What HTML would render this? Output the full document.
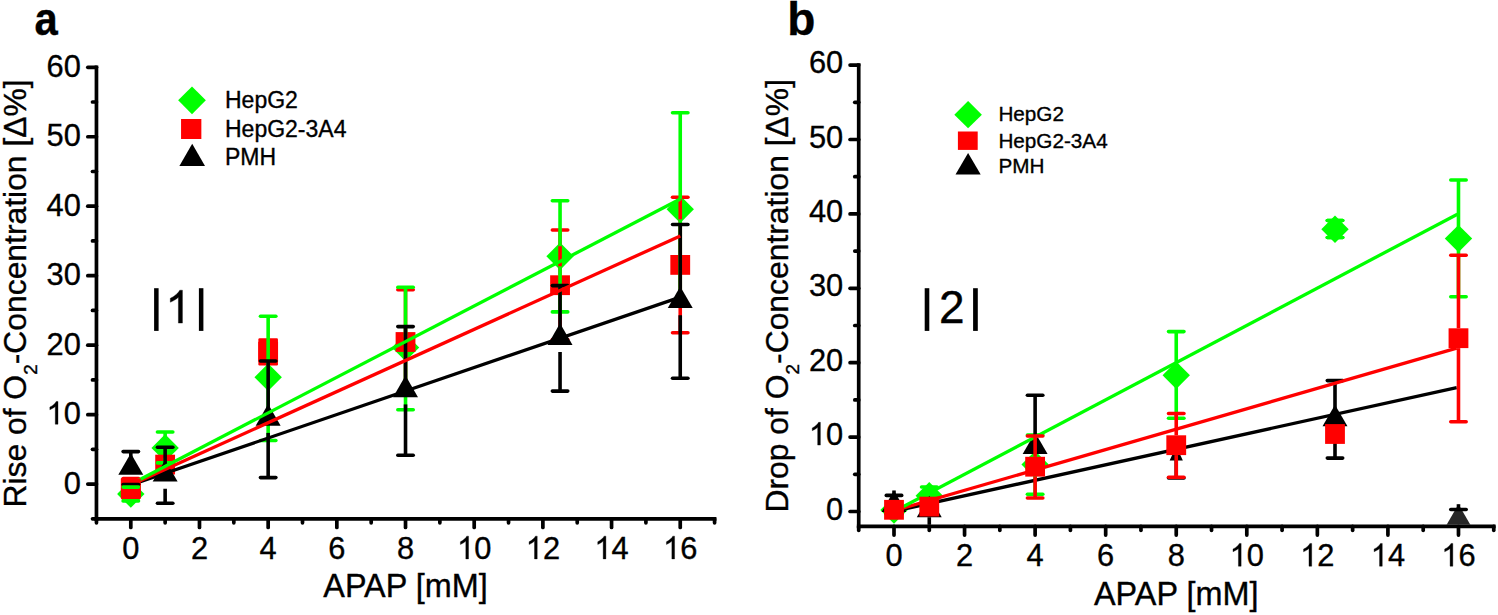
<!DOCTYPE html>
<html><head><meta charset="utf-8"><style>
html,body{margin:0;padding:0;background:#fff;}
svg{display:block;}
text{font-family:"Liberation Sans", sans-serif;fill:#000;stroke:#000;stroke-width:0.35px;}
</style></head><body>
<svg width="1498" height="615" viewBox="0 0 1498 615">
<rect width="1498" height="615" fill="#fff"/>
<line x1="96.46" y1="65.43" x2="96.46" y2="520.69" stroke="#000000" stroke-width="3.7" stroke-linecap="butt"/>
<line x1="94.61" y1="518.84" x2="716.43" y2="518.84" stroke="#000000" stroke-width="3.7" stroke-linecap="butt"/>
<line x1="87.81" y1="484.10" x2="96.46" y2="484.10" stroke="#000000" stroke-width="3.7" stroke-linecap="round"/>
<line x1="87.81" y1="414.63" x2="96.46" y2="414.63" stroke="#000000" stroke-width="3.7" stroke-linecap="round"/>
<line x1="87.81" y1="345.16" x2="96.46" y2="345.16" stroke="#000000" stroke-width="3.7" stroke-linecap="round"/>
<line x1="87.81" y1="275.69" x2="96.46" y2="275.69" stroke="#000000" stroke-width="3.7" stroke-linecap="round"/>
<line x1="87.81" y1="206.22" x2="96.46" y2="206.22" stroke="#000000" stroke-width="3.7" stroke-linecap="round"/>
<line x1="87.81" y1="136.75" x2="96.46" y2="136.75" stroke="#000000" stroke-width="3.7" stroke-linecap="round"/>
<line x1="87.81" y1="67.28" x2="96.46" y2="67.28" stroke="#000000" stroke-width="3.7" stroke-linecap="round"/>
<line x1="92.51" y1="449.37" x2="96.46" y2="449.37" stroke="#000000" stroke-width="3.7" stroke-linecap="round"/>
<line x1="92.51" y1="379.90" x2="96.46" y2="379.90" stroke="#000000" stroke-width="3.7" stroke-linecap="round"/>
<line x1="92.51" y1="310.43" x2="96.46" y2="310.43" stroke="#000000" stroke-width="3.7" stroke-linecap="round"/>
<line x1="92.51" y1="240.96" x2="96.46" y2="240.96" stroke="#000000" stroke-width="3.7" stroke-linecap="round"/>
<line x1="92.51" y1="171.49" x2="96.46" y2="171.49" stroke="#000000" stroke-width="3.7" stroke-linecap="round"/>
<line x1="92.51" y1="102.02" x2="96.46" y2="102.02" stroke="#000000" stroke-width="3.7" stroke-linecap="round"/>
<line x1="92.51" y1="518.84" x2="96.46" y2="518.84" stroke="#000000" stroke-width="3.7" stroke-linecap="round"/>
<line x1="130.80" y1="518.84" x2="130.80" y2="527.49" stroke="#000000" stroke-width="3.7" stroke-linecap="round"/>
<line x1="199.48" y1="518.84" x2="199.48" y2="527.49" stroke="#000000" stroke-width="3.7" stroke-linecap="round"/>
<line x1="268.16" y1="518.84" x2="268.16" y2="527.49" stroke="#000000" stroke-width="3.7" stroke-linecap="round"/>
<line x1="336.84" y1="518.84" x2="336.84" y2="527.49" stroke="#000000" stroke-width="3.7" stroke-linecap="round"/>
<line x1="405.52" y1="518.84" x2="405.52" y2="527.49" stroke="#000000" stroke-width="3.7" stroke-linecap="round"/>
<line x1="474.20" y1="518.84" x2="474.20" y2="527.49" stroke="#000000" stroke-width="3.7" stroke-linecap="round"/>
<line x1="542.88" y1="518.84" x2="542.88" y2="527.49" stroke="#000000" stroke-width="3.7" stroke-linecap="round"/>
<line x1="611.56" y1="518.84" x2="611.56" y2="527.49" stroke="#000000" stroke-width="3.7" stroke-linecap="round"/>
<line x1="680.24" y1="518.84" x2="680.24" y2="527.49" stroke="#000000" stroke-width="3.7" stroke-linecap="round"/>
<line x1="96.46" y1="518.84" x2="96.46" y2="522.78" stroke="#000000" stroke-width="3.7" stroke-linecap="round"/>
<line x1="165.14" y1="518.84" x2="165.14" y2="522.78" stroke="#000000" stroke-width="3.7" stroke-linecap="round"/>
<line x1="233.82" y1="518.84" x2="233.82" y2="522.78" stroke="#000000" stroke-width="3.7" stroke-linecap="round"/>
<line x1="302.50" y1="518.84" x2="302.50" y2="522.78" stroke="#000000" stroke-width="3.7" stroke-linecap="round"/>
<line x1="371.18" y1="518.84" x2="371.18" y2="522.78" stroke="#000000" stroke-width="3.7" stroke-linecap="round"/>
<line x1="439.86" y1="518.84" x2="439.86" y2="522.78" stroke="#000000" stroke-width="3.7" stroke-linecap="round"/>
<line x1="508.54" y1="518.84" x2="508.54" y2="522.78" stroke="#000000" stroke-width="3.7" stroke-linecap="round"/>
<line x1="577.22" y1="518.84" x2="577.22" y2="522.78" stroke="#000000" stroke-width="3.7" stroke-linecap="round"/>
<line x1="645.90" y1="518.84" x2="645.90" y2="522.78" stroke="#000000" stroke-width="3.7" stroke-linecap="round"/>
<line x1="714.58" y1="518.84" x2="714.58" y2="522.78" stroke="#000000" stroke-width="3.7" stroke-linecap="round"/>
<g transform="translate(80.80,493.70) scale(0.97,1)">
<text x="-17.69" y="0" font-size="31.8">0</text>
</g>
<g transform="translate(80.80,424.23) scale(0.97,1)">
<path d="M763,0L583,0L583,1147Q518,1085 412.5,1023Q307,961 223,930L223,1104Q374,1175 485,1273.5Q596,1372 644,1466L763,1466Z" transform="translate(-35.37,0.00) scale(0.01553,-0.01553)" fill="#000" stroke="#000" stroke-width="22.5"/>
<text x="-17.69" y="0" font-size="31.8">0</text>
</g>
<g transform="translate(80.80,354.76) scale(0.97,1)">
<text x="-35.37" y="0" font-size="31.8">2</text>
<text x="-17.69" y="0" font-size="31.8">0</text>
</g>
<g transform="translate(80.80,285.29) scale(0.97,1)">
<text x="-35.37" y="0" font-size="31.8">3</text>
<text x="-17.69" y="0" font-size="31.8">0</text>
</g>
<g transform="translate(80.80,215.82) scale(0.97,1)">
<text x="-35.37" y="0" font-size="31.8">4</text>
<text x="-17.69" y="0" font-size="31.8">0</text>
</g>
<g transform="translate(80.80,146.35) scale(0.97,1)">
<text x="-35.37" y="0" font-size="31.8">5</text>
<text x="-17.69" y="0" font-size="31.8">0</text>
</g>
<g transform="translate(80.80,76.88) scale(0.97,1)">
<text x="-35.37" y="0" font-size="31.8">6</text>
<text x="-17.69" y="0" font-size="31.8">0</text>
</g>
<g transform="translate(130.80,558.90) scale(0.97,1)">
<text x="-8.84" y="0" font-size="31.8">0</text>
</g>
<g transform="translate(199.48,558.90) scale(0.97,1)">
<text x="-8.84" y="0" font-size="31.8">2</text>
</g>
<g transform="translate(268.16,558.90) scale(0.97,1)">
<text x="-8.84" y="0" font-size="31.8">4</text>
</g>
<g transform="translate(336.84,558.90) scale(0.97,1)">
<text x="-8.84" y="0" font-size="31.8">6</text>
</g>
<g transform="translate(405.52,558.90) scale(0.97,1)">
<text x="-8.84" y="0" font-size="31.8">8</text>
</g>
<g transform="translate(474.20,558.90) scale(0.97,1)">
<path d="M763,0L583,0L583,1147Q518,1085 412.5,1023Q307,961 223,930L223,1104Q374,1175 485,1273.5Q596,1372 644,1466L763,1466Z" transform="translate(-17.69,0.00) scale(0.01553,-0.01553)" fill="#000" stroke="#000" stroke-width="22.5"/>
<text x="0.00" y="0" font-size="31.8">0</text>
</g>
<g transform="translate(542.88,558.90) scale(0.97,1)">
<path d="M763,0L583,0L583,1147Q518,1085 412.5,1023Q307,961 223,930L223,1104Q374,1175 485,1273.5Q596,1372 644,1466L763,1466Z" transform="translate(-17.69,0.00) scale(0.01553,-0.01553)" fill="#000" stroke="#000" stroke-width="22.5"/>
<text x="0.00" y="0" font-size="31.8">2</text>
</g>
<g transform="translate(611.56,558.90) scale(0.97,1)">
<path d="M763,0L583,0L583,1147Q518,1085 412.5,1023Q307,961 223,930L223,1104Q374,1175 485,1273.5Q596,1372 644,1466L763,1466Z" transform="translate(-17.69,0.00) scale(0.01553,-0.01553)" fill="#000" stroke="#000" stroke-width="22.5"/>
<text x="0.00" y="0" font-size="31.8">4</text>
</g>
<g transform="translate(680.24,558.90) scale(0.97,1)">
<path d="M763,0L583,0L583,1147Q518,1085 412.5,1023Q307,961 223,930L223,1104Q374,1175 485,1273.5Q596,1372 644,1466L763,1466Z" transform="translate(-17.69,0.00) scale(0.01553,-0.01553)" fill="#000" stroke="#000" stroke-width="22.5"/>
<text x="0.00" y="0" font-size="31.8">6</text>
</g>
<text x="323.30" y="596.60" font-size="32.4" text-anchor="start" font-weight="normal" >APAP [mM]</text>
<text transform="translate(25.8,505.6) rotate(-90)" x="-2" y="0" font-size="31.85">Rise of O<tspan font-size="19" dy="11">2</tspan><tspan dy="-11">-Concentration [Δ%]</tspan></text>
<text transform="translate(34.4,34.8) scale(0.89,1)" x="0" y="0" font-size="47" font-weight="bold">a</text>
<polygon points="192.00,86.45 205.85,100.30 192.00,114.15 178.15,100.30" fill="#00ff00"/>
<rect x="181.05" y="119.00" width="20.30" height="20.00" fill="#ff0000"/>
<polygon points="192.20,143.80 205.00,165.90 179.40,165.90" fill="#000000"/>
<text x="225.00" y="107.70" font-size="23" text-anchor="start" font-weight="normal" >HepG2</text>
<text x="225.00" y="137.30" font-size="23" text-anchor="start" font-weight="normal" >HepG2-3A4</text>
<text x="225.00" y="165.40" font-size="23" text-anchor="start" font-weight="normal" >PMH</text>
<rect x="154.1" y="288.2" width="4.5" height="42.7" fill="#000"/>
<rect x="198.9" y="288.2" width="4.5" height="42.7" fill="#000"/>
<path d="M763,0L583,0L583,1147Q518,1085 412.5,1023Q307,961 223,930L223,1104Q374,1175 485,1273.5Q596,1372 644,1466L763,1466Z" transform="translate(165.30,323.10) scale(0.02246,-0.02246)" fill="#000" stroke="#000" stroke-width="15.6"/>
<clipPath id="ca"><rect x="98.5" y="60" width="630" height="456.8"/></clipPath><g clip-path="url(#ca)">
<polygon points="130.80,480.30 144.50,494.00 130.80,507.70 117.10,494.00" fill="#00ff00"/>
<polygon points="165.14,434.20 178.84,447.90 165.14,461.60 151.44,447.90" fill="#00ff00"/>
<polygon points="268.16,363.60 281.86,377.30 268.16,391.00 254.46,377.30" fill="#00ff00"/>
<polygon points="405.52,333.80 419.22,347.50 405.52,361.20 391.82,347.50" fill="#00ff00"/>
<polygon points="560.05,242.60 573.75,256.30 560.05,270.00 546.35,256.30" fill="#00ff00"/>
<polygon points="680.24,195.60 693.94,209.30 680.24,223.00 666.54,209.30" fill="#00ff00"/>
<rect x="120.90" y="478.50" width="19.80" height="19.80" fill="#ff0000"/>
<rect x="155.24" y="454.70" width="19.80" height="19.80" fill="#ff0000"/>
<rect x="258.26" y="341.80" width="19.80" height="19.80" fill="#ff0000"/>
<rect x="395.62" y="332.10" width="19.80" height="19.80" fill="#ff0000"/>
<rect x="550.15" y="275.30" width="19.80" height="19.80" fill="#ff0000"/>
<rect x="670.34" y="255.00" width="19.80" height="19.80" fill="#ff0000"/>
<line x1="130.80" y1="478.50" x2="130.80" y2="478.50" stroke="#ff0000" stroke-width="3.6" stroke-linecap="butt"/>
<line x1="123.10" y1="478.50" x2="138.50" y2="478.50" stroke="#ff0000" stroke-width="3.6" stroke-linecap="round"/>
<line x1="130.80" y1="498.30" x2="130.80" y2="498.30" stroke="#ff0000" stroke-width="3.6" stroke-linecap="butt"/>
<line x1="123.10" y1="498.30" x2="138.50" y2="498.30" stroke="#ff0000" stroke-width="3.6" stroke-linecap="round"/>
<line x1="405.52" y1="332.10" x2="405.52" y2="289.80" stroke="#ff0000" stroke-width="3.6" stroke-linecap="butt"/>
<line x1="397.82" y1="289.80" x2="413.22" y2="289.80" stroke="#ff0000" stroke-width="3.6" stroke-linecap="round"/>
<line x1="405.52" y1="351.90" x2="405.52" y2="394.10" stroke="#ff0000" stroke-width="3.6" stroke-linecap="butt"/>
<line x1="397.82" y1="394.10" x2="413.22" y2="394.10" stroke="#ff0000" stroke-width="3.6" stroke-linecap="round"/>
<line x1="560.05" y1="275.30" x2="560.05" y2="230.00" stroke="#ff0000" stroke-width="3.6" stroke-linecap="butt"/>
<line x1="552.35" y1="230.00" x2="567.75" y2="230.00" stroke="#ff0000" stroke-width="3.6" stroke-linecap="round"/>
<line x1="560.05" y1="295.10" x2="560.05" y2="339.60" stroke="#ff0000" stroke-width="3.6" stroke-linecap="butt"/>
<line x1="552.35" y1="339.60" x2="567.75" y2="339.60" stroke="#ff0000" stroke-width="3.6" stroke-linecap="round"/>
<line x1="680.24" y1="255.00" x2="680.24" y2="197.20" stroke="#ff0000" stroke-width="3.6" stroke-linecap="butt"/>
<line x1="672.54" y1="197.20" x2="687.94" y2="197.20" stroke="#ff0000" stroke-width="3.6" stroke-linecap="round"/>
<line x1="680.24" y1="274.80" x2="680.24" y2="332.80" stroke="#ff0000" stroke-width="3.6" stroke-linecap="butt"/>
<line x1="672.54" y1="332.80" x2="687.94" y2="332.80" stroke="#ff0000" stroke-width="3.6" stroke-linecap="round"/>
<rect x="258.36" y="338.2" width="19.6" height="27.2" rx="1.2" fill="#ff0000"/>
<line x1="130.80" y1="484.00" x2="130.80" y2="487.10" stroke="#00ff00" stroke-width="3.6" stroke-linecap="butt"/>
<line x1="123.10" y1="487.10" x2="138.50" y2="487.10" stroke="#00ff00" stroke-width="3.6" stroke-linecap="round"/>
<line x1="130.80" y1="504.00" x2="130.80" y2="500.90" stroke="#00ff00" stroke-width="3.6" stroke-linecap="butt"/>
<line x1="123.10" y1="500.90" x2="138.50" y2="500.90" stroke="#00ff00" stroke-width="3.6" stroke-linecap="round"/>
<line x1="165.14" y1="437.90" x2="165.14" y2="432.00" stroke="#00ff00" stroke-width="3.6" stroke-linecap="butt"/>
<line x1="157.44" y1="432.00" x2="172.84" y2="432.00" stroke="#00ff00" stroke-width="3.6" stroke-linecap="round"/>
<line x1="165.14" y1="457.90" x2="165.14" y2="462.90" stroke="#00ff00" stroke-width="3.6" stroke-linecap="butt"/>
<line x1="157.44" y1="462.90" x2="172.84" y2="462.90" stroke="#00ff00" stroke-width="3.6" stroke-linecap="round"/>
<line x1="268.16" y1="367.30" x2="268.16" y2="316.30" stroke="#00ff00" stroke-width="3.6" stroke-linecap="butt"/>
<line x1="260.46" y1="316.30" x2="275.86" y2="316.30" stroke="#00ff00" stroke-width="3.6" stroke-linecap="round"/>
<line x1="268.16" y1="387.30" x2="268.16" y2="440.50" stroke="#00ff00" stroke-width="3.6" stroke-linecap="butt"/>
<line x1="260.46" y1="440.50" x2="275.86" y2="440.50" stroke="#00ff00" stroke-width="3.6" stroke-linecap="round"/>
<line x1="405.52" y1="337.50" x2="405.52" y2="287.20" stroke="#00ff00" stroke-width="3.6" stroke-linecap="butt"/>
<line x1="397.82" y1="287.20" x2="413.22" y2="287.20" stroke="#00ff00" stroke-width="3.6" stroke-linecap="round"/>
<line x1="405.52" y1="357.50" x2="405.52" y2="409.80" stroke="#00ff00" stroke-width="3.6" stroke-linecap="butt"/>
<line x1="397.82" y1="409.80" x2="413.22" y2="409.80" stroke="#00ff00" stroke-width="3.6" stroke-linecap="round"/>
<line x1="560.05" y1="246.30" x2="560.05" y2="200.70" stroke="#00ff00" stroke-width="3.6" stroke-linecap="butt"/>
<line x1="552.35" y1="200.70" x2="567.75" y2="200.70" stroke="#00ff00" stroke-width="3.6" stroke-linecap="round"/>
<line x1="560.05" y1="266.30" x2="560.05" y2="311.90" stroke="#00ff00" stroke-width="3.6" stroke-linecap="butt"/>
<line x1="552.35" y1="311.90" x2="567.75" y2="311.90" stroke="#00ff00" stroke-width="3.6" stroke-linecap="round"/>
<line x1="680.24" y1="199.30" x2="680.24" y2="112.70" stroke="#00ff00" stroke-width="3.6" stroke-linecap="butt"/>
<line x1="672.54" y1="112.70" x2="687.94" y2="112.70" stroke="#00ff00" stroke-width="3.6" stroke-linecap="round"/>
<line x1="680.24" y1="219.30" x2="680.24" y2="306.30" stroke="#00ff00" stroke-width="3.6" stroke-linecap="butt"/>
<line x1="672.54" y1="306.30" x2="687.94" y2="306.30" stroke="#00ff00" stroke-width="3.6" stroke-linecap="round"/>
<polygon points="130.80,453.20 143.27,474.80 118.33,474.80" fill="#000000"/>
<polygon points="165.14,459.90 177.61,481.50 152.67,481.50" fill="#000000"/>
<polygon points="268.16,404.10 280.63,425.70 255.69,425.70" fill="#000000"/>
<polygon points="405.52,375.60 417.99,397.20 393.05,397.20" fill="#000000"/>
<polygon points="560.05,323.30 572.52,344.90 547.58,344.90" fill="#000000"/>
<polygon points="680.24,286.40 692.71,308.00 667.77,308.00" fill="#000000"/>
<line x1="130.80" y1="457.20" x2="130.80" y2="451.60" stroke="#000000" stroke-width="3.6" stroke-linecap="butt"/>
<line x1="123.10" y1="451.60" x2="138.50" y2="451.60" stroke="#000000" stroke-width="3.6" stroke-linecap="round"/>
<line x1="130.80" y1="482.00" x2="130.80" y2="484.50" stroke="#000000" stroke-width="3.6" stroke-linecap="butt"/>
<line x1="123.10" y1="484.50" x2="138.50" y2="484.50" stroke="#000000" stroke-width="3.6" stroke-linecap="round"/>
<line x1="165.14" y1="463.90" x2="165.14" y2="447.20" stroke="#000000" stroke-width="3.6" stroke-linecap="butt"/>
<line x1="157.44" y1="447.20" x2="172.84" y2="447.20" stroke="#000000" stroke-width="3.6" stroke-linecap="round"/>
<line x1="165.14" y1="488.70" x2="165.14" y2="503.30" stroke="#000000" stroke-width="3.6" stroke-linecap="butt"/>
<line x1="157.44" y1="503.30" x2="172.84" y2="503.30" stroke="#000000" stroke-width="3.6" stroke-linecap="round"/>
<line x1="268.16" y1="408.10" x2="268.16" y2="361.00" stroke="#000000" stroke-width="3.6" stroke-linecap="butt"/>
<line x1="260.46" y1="361.00" x2="275.86" y2="361.00" stroke="#000000" stroke-width="3.6" stroke-linecap="round"/>
<line x1="268.16" y1="432.90" x2="268.16" y2="477.60" stroke="#000000" stroke-width="3.6" stroke-linecap="butt"/>
<line x1="260.46" y1="477.60" x2="275.86" y2="477.60" stroke="#000000" stroke-width="3.6" stroke-linecap="round"/>
<line x1="405.52" y1="379.60" x2="405.52" y2="326.60" stroke="#000000" stroke-width="3.6" stroke-linecap="butt"/>
<line x1="397.82" y1="326.60" x2="413.22" y2="326.60" stroke="#000000" stroke-width="3.6" stroke-linecap="round"/>
<line x1="405.52" y1="404.40" x2="405.52" y2="455.20" stroke="#000000" stroke-width="3.6" stroke-linecap="butt"/>
<line x1="397.82" y1="455.20" x2="413.22" y2="455.20" stroke="#000000" stroke-width="3.6" stroke-linecap="round"/>
<line x1="560.05" y1="327.30" x2="560.05" y2="285.60" stroke="#000000" stroke-width="3.6" stroke-linecap="butt"/>
<line x1="552.35" y1="285.60" x2="567.75" y2="285.60" stroke="#000000" stroke-width="3.6" stroke-linecap="round"/>
<line x1="560.05" y1="352.10" x2="560.05" y2="391.10" stroke="#000000" stroke-width="3.6" stroke-linecap="butt"/>
<line x1="552.35" y1="391.10" x2="567.75" y2="391.10" stroke="#000000" stroke-width="3.6" stroke-linecap="round"/>
<line x1="680.24" y1="290.40" x2="680.24" y2="224.50" stroke="#000000" stroke-width="3.6" stroke-linecap="butt"/>
<line x1="672.54" y1="224.50" x2="687.94" y2="224.50" stroke="#000000" stroke-width="3.6" stroke-linecap="round"/>
<line x1="680.24" y1="315.20" x2="680.24" y2="378.30" stroke="#000000" stroke-width="3.6" stroke-linecap="butt"/>
<line x1="672.54" y1="378.30" x2="687.94" y2="378.30" stroke="#000000" stroke-width="3.6" stroke-linecap="round"/>
<line x1="130.80" y1="485.00" x2="680.30" y2="297.10" stroke="#000000" stroke-width="3.3" stroke-linecap="butt"/>
<line x1="130.80" y1="485.00" x2="680.30" y2="235.90" stroke="#ff0000" stroke-width="3.3" stroke-linecap="butt"/>
<line x1="130.80" y1="484.20" x2="680.30" y2="199.00" stroke="#00ff00" stroke-width="3.3" stroke-linecap="butt"/>
<rect x="120.90" y="478.50" width="19.80" height="19.80" fill="#ff0000"/>
<line x1="123.10" y1="484.50" x2="138.50" y2="484.50" stroke="#000000" stroke-width="3.6" stroke-linecap="round"/>
<line x1="123.10" y1="487.10" x2="138.50" y2="487.10" stroke="#00ff00" stroke-width="3.6" stroke-linecap="round"/>
</g>
<line x1="858.72" y1="63.25" x2="858.72" y2="528.23" stroke="#000000" stroke-width="3.7" stroke-linecap="butt"/>
<line x1="856.87" y1="526.38" x2="1495.61" y2="526.38" stroke="#000000" stroke-width="3.7" stroke-linecap="butt"/>
<line x1="850.07" y1="511.50" x2="858.72" y2="511.50" stroke="#000000" stroke-width="3.7" stroke-linecap="round"/>
<line x1="850.07" y1="437.10" x2="858.72" y2="437.10" stroke="#000000" stroke-width="3.7" stroke-linecap="round"/>
<line x1="850.07" y1="362.70" x2="858.72" y2="362.70" stroke="#000000" stroke-width="3.7" stroke-linecap="round"/>
<line x1="850.07" y1="288.30" x2="858.72" y2="288.30" stroke="#000000" stroke-width="3.7" stroke-linecap="round"/>
<line x1="850.07" y1="213.90" x2="858.72" y2="213.90" stroke="#000000" stroke-width="3.7" stroke-linecap="round"/>
<line x1="850.07" y1="139.50" x2="858.72" y2="139.50" stroke="#000000" stroke-width="3.7" stroke-linecap="round"/>
<line x1="850.07" y1="65.10" x2="858.72" y2="65.10" stroke="#000000" stroke-width="3.7" stroke-linecap="round"/>
<line x1="854.77" y1="474.30" x2="858.72" y2="474.30" stroke="#000000" stroke-width="3.7" stroke-linecap="round"/>
<line x1="854.77" y1="399.90" x2="858.72" y2="399.90" stroke="#000000" stroke-width="3.7" stroke-linecap="round"/>
<line x1="854.77" y1="325.50" x2="858.72" y2="325.50" stroke="#000000" stroke-width="3.7" stroke-linecap="round"/>
<line x1="854.77" y1="251.10" x2="858.72" y2="251.10" stroke="#000000" stroke-width="3.7" stroke-linecap="round"/>
<line x1="854.77" y1="176.70" x2="858.72" y2="176.70" stroke="#000000" stroke-width="3.7" stroke-linecap="round"/>
<line x1="854.77" y1="102.30" x2="858.72" y2="102.30" stroke="#000000" stroke-width="3.7" stroke-linecap="round"/>
<line x1="894.00" y1="526.38" x2="894.00" y2="535.03" stroke="#000000" stroke-width="3.7" stroke-linecap="round"/>
<line x1="964.56" y1="526.38" x2="964.56" y2="535.03" stroke="#000000" stroke-width="3.7" stroke-linecap="round"/>
<line x1="1035.12" y1="526.38" x2="1035.12" y2="535.03" stroke="#000000" stroke-width="3.7" stroke-linecap="round"/>
<line x1="1105.68" y1="526.38" x2="1105.68" y2="535.03" stroke="#000000" stroke-width="3.7" stroke-linecap="round"/>
<line x1="1176.24" y1="526.38" x2="1176.24" y2="535.03" stroke="#000000" stroke-width="3.7" stroke-linecap="round"/>
<line x1="1246.80" y1="526.38" x2="1246.80" y2="535.03" stroke="#000000" stroke-width="3.7" stroke-linecap="round"/>
<line x1="1317.36" y1="526.38" x2="1317.36" y2="535.03" stroke="#000000" stroke-width="3.7" stroke-linecap="round"/>
<line x1="1387.92" y1="526.38" x2="1387.92" y2="535.03" stroke="#000000" stroke-width="3.7" stroke-linecap="round"/>
<line x1="1458.48" y1="526.38" x2="1458.48" y2="535.03" stroke="#000000" stroke-width="3.7" stroke-linecap="round"/>
<line x1="858.72" y1="526.38" x2="858.72" y2="530.33" stroke="#000000" stroke-width="3.7" stroke-linecap="round"/>
<line x1="929.28" y1="526.38" x2="929.28" y2="530.33" stroke="#000000" stroke-width="3.7" stroke-linecap="round"/>
<line x1="999.84" y1="526.38" x2="999.84" y2="530.33" stroke="#000000" stroke-width="3.7" stroke-linecap="round"/>
<line x1="1070.40" y1="526.38" x2="1070.40" y2="530.33" stroke="#000000" stroke-width="3.7" stroke-linecap="round"/>
<line x1="1140.96" y1="526.38" x2="1140.96" y2="530.33" stroke="#000000" stroke-width="3.7" stroke-linecap="round"/>
<line x1="1211.52" y1="526.38" x2="1211.52" y2="530.33" stroke="#000000" stroke-width="3.7" stroke-linecap="round"/>
<line x1="1282.08" y1="526.38" x2="1282.08" y2="530.33" stroke="#000000" stroke-width="3.7" stroke-linecap="round"/>
<line x1="1352.64" y1="526.38" x2="1352.64" y2="530.33" stroke="#000000" stroke-width="3.7" stroke-linecap="round"/>
<line x1="1423.20" y1="526.38" x2="1423.20" y2="530.33" stroke="#000000" stroke-width="3.7" stroke-linecap="round"/>
<line x1="1493.76" y1="526.38" x2="1493.76" y2="530.33" stroke="#000000" stroke-width="3.7" stroke-linecap="round"/>
<g transform="translate(843.20,519.50) scale(0.97,1)">
<text x="-17.69" y="0" font-size="31.8">0</text>
</g>
<g transform="translate(843.20,445.10) scale(0.97,1)">
<path d="M763,0L583,0L583,1147Q518,1085 412.5,1023Q307,961 223,930L223,1104Q374,1175 485,1273.5Q596,1372 644,1466L763,1466Z" transform="translate(-35.37,0.00) scale(0.01553,-0.01553)" fill="#000" stroke="#000" stroke-width="22.5"/>
<text x="-17.69" y="0" font-size="31.8">0</text>
</g>
<g transform="translate(843.20,370.70) scale(0.97,1)">
<text x="-35.37" y="0" font-size="31.8">2</text>
<text x="-17.69" y="0" font-size="31.8">0</text>
</g>
<g transform="translate(843.20,296.30) scale(0.97,1)">
<text x="-35.37" y="0" font-size="31.8">3</text>
<text x="-17.69" y="0" font-size="31.8">0</text>
</g>
<g transform="translate(843.20,221.90) scale(0.97,1)">
<text x="-35.37" y="0" font-size="31.8">4</text>
<text x="-17.69" y="0" font-size="31.8">0</text>
</g>
<g transform="translate(843.20,147.50) scale(0.97,1)">
<text x="-35.37" y="0" font-size="31.8">5</text>
<text x="-17.69" y="0" font-size="31.8">0</text>
</g>
<g transform="translate(843.20,73.10) scale(0.97,1)">
<text x="-35.37" y="0" font-size="31.8">6</text>
<text x="-17.69" y="0" font-size="31.8">0</text>
</g>
<g transform="translate(894.00,566.20) scale(0.97,1)">
<text x="-8.84" y="0" font-size="31.8">0</text>
</g>
<g transform="translate(964.56,566.20) scale(0.97,1)">
<text x="-8.84" y="0" font-size="31.8">2</text>
</g>
<g transform="translate(1035.12,566.20) scale(0.97,1)">
<text x="-8.84" y="0" font-size="31.8">4</text>
</g>
<g transform="translate(1105.68,566.20) scale(0.97,1)">
<text x="-8.84" y="0" font-size="31.8">6</text>
</g>
<g transform="translate(1176.24,566.20) scale(0.97,1)">
<text x="-8.84" y="0" font-size="31.8">8</text>
</g>
<g transform="translate(1246.80,566.20) scale(0.97,1)">
<path d="M763,0L583,0L583,1147Q518,1085 412.5,1023Q307,961 223,930L223,1104Q374,1175 485,1273.5Q596,1372 644,1466L763,1466Z" transform="translate(-17.69,0.00) scale(0.01553,-0.01553)" fill="#000" stroke="#000" stroke-width="22.5"/>
<text x="0.00" y="0" font-size="31.8">0</text>
</g>
<g transform="translate(1317.36,566.20) scale(0.97,1)">
<path d="M763,0L583,0L583,1147Q518,1085 412.5,1023Q307,961 223,930L223,1104Q374,1175 485,1273.5Q596,1372 644,1466L763,1466Z" transform="translate(-17.69,0.00) scale(0.01553,-0.01553)" fill="#000" stroke="#000" stroke-width="22.5"/>
<text x="0.00" y="0" font-size="31.8">2</text>
</g>
<g transform="translate(1387.92,566.20) scale(0.97,1)">
<path d="M763,0L583,0L583,1147Q518,1085 412.5,1023Q307,961 223,930L223,1104Q374,1175 485,1273.5Q596,1372 644,1466L763,1466Z" transform="translate(-17.69,0.00) scale(0.01553,-0.01553)" fill="#000" stroke="#000" stroke-width="22.5"/>
<text x="0.00" y="0" font-size="31.8">4</text>
</g>
<g transform="translate(1458.48,566.20) scale(0.97,1)">
<path d="M763,0L583,0L583,1147Q518,1085 412.5,1023Q307,961 223,930L223,1104Q374,1175 485,1273.5Q596,1372 644,1466L763,1466Z" transform="translate(-17.69,0.00) scale(0.01553,-0.01553)" fill="#000" stroke="#000" stroke-width="22.5"/>
<text x="0.00" y="0" font-size="31.8">6</text>
</g>
<text x="1094.00" y="604.90" font-size="32.4" text-anchor="start" font-weight="normal" >APAP [mM]</text>
<text transform="translate(788.3,510.6) rotate(-90)" x="-2" y="0" font-size="31.85">Drop of O<tspan font-size="19" dy="11">2</tspan><tspan dy="-11">-Concentration [Δ%]</tspan></text>
<text x="787.30" y="34.60" font-size="46" text-anchor="start" font-weight="bold" >b</text>
<polygon points="968.10,101.10 981.90,114.70 968.10,128.30 954.30,114.70" fill="#00ff00"/>
<rect x="957.90" y="131.50" width="19.80" height="18.40" fill="#ff0000"/>
<polygon points="968.10,153.10 980.70,174.60 955.50,174.60" fill="#000000"/>
<text x="998.40" y="120.90" font-size="20.7" text-anchor="start" font-weight="normal" >HepG2</text>
<text x="998.40" y="147.80" font-size="20.7" text-anchor="start" font-weight="normal" >HepG2-3A4</text>
<text x="998.40" y="173.30" font-size="20.7" text-anchor="start" font-weight="normal" >PMH</text>
<rect x="924.7" y="288.2" width="4.6" height="42.7" fill="#000"/>
<rect x="973.1" y="288.2" width="4.7" height="42.7" fill="#000"/>
<text x="951.70" y="323.10" font-size="46" text-anchor="middle" font-weight="normal" >2</text>
<clipPath id="cb"><rect x="860.5" y="55" width="640" height="469.8"/></clipPath><g clip-path="url(#cb)">
<polygon points="894.00,496.30 907.70,510.00 894.00,523.70 880.30,510.00" fill="#00ff00"/>
<polygon points="929.28,482.00 942.98,495.70 929.28,509.40 915.58,495.70" fill="#00ff00"/>
<polygon points="1035.12,450.90 1048.82,464.60 1035.12,478.30 1021.42,464.60" fill="#00ff00"/>
<polygon points="1176.24,361.60 1189.94,375.30 1176.24,389.00 1162.54,375.30" fill="#00ff00"/>
<polygon points="1335.00,215.50 1348.70,229.20 1335.00,242.90 1321.30,229.20" fill="#00ff00"/>
<polygon points="1458.48,224.90 1472.18,238.60 1458.48,252.30 1444.78,238.60" fill="#00ff00"/>
<line x1="929.28" y1="485.70" x2="929.28" y2="487.00" stroke="#00ff00" stroke-width="3.6" stroke-linecap="butt"/>
<line x1="921.58" y1="487.00" x2="936.98" y2="487.00" stroke="#00ff00" stroke-width="3.6" stroke-linecap="round"/>
<line x1="929.28" y1="505.70" x2="929.28" y2="504.40" stroke="#00ff00" stroke-width="3.6" stroke-linecap="butt"/>
<line x1="921.58" y1="504.40" x2="936.98" y2="504.40" stroke="#00ff00" stroke-width="3.6" stroke-linecap="round"/>
<line x1="1035.12" y1="454.60" x2="1035.12" y2="435.00" stroke="#00ff00" stroke-width="3.6" stroke-linecap="butt"/>
<line x1="1027.42" y1="435.00" x2="1042.82" y2="435.00" stroke="#00ff00" stroke-width="3.6" stroke-linecap="round"/>
<line x1="1035.12" y1="474.60" x2="1035.12" y2="494.20" stroke="#00ff00" stroke-width="3.6" stroke-linecap="butt"/>
<line x1="1027.42" y1="494.20" x2="1042.82" y2="494.20" stroke="#00ff00" stroke-width="3.6" stroke-linecap="round"/>
<line x1="1176.24" y1="365.30" x2="1176.24" y2="331.60" stroke="#00ff00" stroke-width="3.6" stroke-linecap="butt"/>
<line x1="1168.54" y1="331.60" x2="1183.94" y2="331.60" stroke="#00ff00" stroke-width="3.6" stroke-linecap="round"/>
<line x1="1176.24" y1="385.30" x2="1176.24" y2="418.20" stroke="#00ff00" stroke-width="3.6" stroke-linecap="butt"/>
<line x1="1168.54" y1="418.20" x2="1183.94" y2="418.20" stroke="#00ff00" stroke-width="3.6" stroke-linecap="round"/>
<line x1="1335.00" y1="219.20" x2="1335.00" y2="220.50" stroke="#00ff00" stroke-width="3.6" stroke-linecap="butt"/>
<line x1="1327.30" y1="220.50" x2="1342.70" y2="220.50" stroke="#00ff00" stroke-width="3.6" stroke-linecap="round"/>
<line x1="1335.00" y1="239.20" x2="1335.00" y2="237.50" stroke="#00ff00" stroke-width="3.6" stroke-linecap="butt"/>
<line x1="1327.30" y1="237.50" x2="1342.70" y2="237.50" stroke="#00ff00" stroke-width="3.6" stroke-linecap="round"/>
<line x1="1458.48" y1="228.60" x2="1458.48" y2="180.00" stroke="#00ff00" stroke-width="3.6" stroke-linecap="butt"/>
<line x1="1450.78" y1="180.00" x2="1466.18" y2="180.00" stroke="#00ff00" stroke-width="3.6" stroke-linecap="round"/>
<line x1="1458.48" y1="248.60" x2="1458.48" y2="296.70" stroke="#00ff00" stroke-width="3.6" stroke-linecap="butt"/>
<line x1="1450.78" y1="296.70" x2="1466.18" y2="296.70" stroke="#00ff00" stroke-width="3.6" stroke-linecap="round"/>
<line x1="1327.30" y1="220.50" x2="1342.70" y2="220.50" stroke="#00ff00" stroke-width="3.6" stroke-linecap="round"/>
<line x1="1327.30" y1="237.50" x2="1342.70" y2="237.50" stroke="#00ff00" stroke-width="3.6" stroke-linecap="round"/>
<polygon points="894.00,490.50 906.47,512.10 881.53,512.10" fill="#000000"/>
<polygon points="929.28,495.70 941.75,517.30 916.81,517.30" fill="#000000"/>
<polygon points="1035.12,432.40 1047.59,454.00 1022.65,454.00" fill="#000000"/>
<polygon points="1335.00,404.70 1347.47,426.30 1322.53,426.30" fill="#000000"/>
<polygon points="1458.48,504.20 1470.95,525.80 1446.01,525.80" fill="#262626"/>
<polygon points="1172.64,454 1179.84,454 1182.84,460.6 1169.64,460.6" fill="#000"/>
<line x1="894.00" y1="490.50" x2="894.00" y2="495.40" stroke="#000000" stroke-width="3.6" stroke-linecap="butt"/>
<line x1="886.30" y1="495.40" x2="901.70" y2="495.40" stroke="#000000" stroke-width="3.6" stroke-linecap="round"/>
<line x1="894.00" y1="512.10" x2="894.00" y2="514.40" stroke="#000000" stroke-width="3.6" stroke-linecap="butt"/>
<line x1="886.30" y1="514.40" x2="901.70" y2="514.40" stroke="#000000" stroke-width="3.6" stroke-linecap="round"/>
<line x1="929.28" y1="517.30" x2="929.28" y2="540.00" stroke="#000000" stroke-width="3.6" stroke-linecap="butt"/>
<line x1="921.58" y1="540.00" x2="936.98" y2="540.00" stroke="#000000" stroke-width="3.6" stroke-linecap="round"/>
<line x1="1035.12" y1="436.40" x2="1035.12" y2="395.20" stroke="#000000" stroke-width="3.6" stroke-linecap="butt"/>
<line x1="1027.42" y1="395.20" x2="1042.82" y2="395.20" stroke="#000000" stroke-width="3.6" stroke-linecap="round"/>
<line x1="1176.24" y1="459.70" x2="1176.24" y2="478.00" stroke="#000000" stroke-width="3.6" stroke-linecap="butt"/>
<line x1="1168.54" y1="478.00" x2="1183.94" y2="478.00" stroke="#000000" stroke-width="3.6" stroke-linecap="round"/>
<line x1="1335.00" y1="408.70" x2="1335.00" y2="380.60" stroke="#000000" stroke-width="3.6" stroke-linecap="butt"/>
<line x1="1327.30" y1="380.60" x2="1342.70" y2="380.60" stroke="#000000" stroke-width="3.6" stroke-linecap="round"/>
<line x1="1335.00" y1="426.30" x2="1335.00" y2="458.10" stroke="#000000" stroke-width="3.6" stroke-linecap="butt"/>
<line x1="1327.30" y1="458.10" x2="1342.70" y2="458.10" stroke="#000000" stroke-width="3.6" stroke-linecap="round"/>
<line x1="1458.48" y1="504.20" x2="1458.48" y2="509.50" stroke="#000000" stroke-width="3.6" stroke-linecap="butt"/>
<line x1="1450.78" y1="509.50" x2="1466.18" y2="509.50" stroke="#000000" stroke-width="3.6" stroke-linecap="round"/>
<line x1="893.60" y1="511.40" x2="1456.70" y2="387.60" stroke="#000000" stroke-width="3.3" stroke-linecap="butt"/>
<line x1="893.60" y1="510.80" x2="1456.70" y2="348.10" stroke="#ff0000" stroke-width="3.3" stroke-linecap="butt"/>
<line x1="893.60" y1="511.70" x2="1457.40" y2="214.20" stroke="#00ff00" stroke-width="3.3" stroke-linecap="butt"/>
<rect x="884.10" y="499.90" width="19.80" height="19.80" fill="#ff0000"/>
<rect x="919.38" y="496.70" width="19.80" height="19.80" fill="#ff0000"/>
<rect x="1025.22" y="456.80" width="19.80" height="19.80" fill="#ff0000"/>
<rect x="1166.34" y="435.30" width="19.80" height="19.80" fill="#ff0000"/>
<rect x="1325.10" y="424.10" width="19.80" height="19.80" fill="#ff0000"/>
<rect x="1448.58" y="328.30" width="19.80" height="19.80" fill="#ff0000"/>
<line x1="1035.12" y1="456.80" x2="1035.12" y2="436.00" stroke="#ff0000" stroke-width="3.6" stroke-linecap="butt"/>
<line x1="1027.42" y1="436.00" x2="1042.82" y2="436.00" stroke="#ff0000" stroke-width="3.6" stroke-linecap="round"/>
<line x1="1035.12" y1="476.60" x2="1035.12" y2="498.00" stroke="#ff0000" stroke-width="3.6" stroke-linecap="butt"/>
<line x1="1027.42" y1="498.00" x2="1042.82" y2="498.00" stroke="#ff0000" stroke-width="3.6" stroke-linecap="round"/>
<line x1="1176.24" y1="435.30" x2="1176.24" y2="413.50" stroke="#ff0000" stroke-width="3.6" stroke-linecap="butt"/>
<line x1="1168.54" y1="413.50" x2="1183.94" y2="413.50" stroke="#ff0000" stroke-width="3.6" stroke-linecap="round"/>
<line x1="1176.24" y1="455.10" x2="1176.24" y2="477.20" stroke="#ff0000" stroke-width="3.6" stroke-linecap="butt"/>
<line x1="1168.54" y1="477.20" x2="1183.94" y2="477.20" stroke="#ff0000" stroke-width="3.6" stroke-linecap="round"/>
<line x1="1458.48" y1="328.30" x2="1458.48" y2="255.20" stroke="#ff0000" stroke-width="3.6" stroke-linecap="butt"/>
<line x1="1450.78" y1="255.20" x2="1466.18" y2="255.20" stroke="#ff0000" stroke-width="3.6" stroke-linecap="round"/>
<line x1="1458.48" y1="348.10" x2="1458.48" y2="421.70" stroke="#ff0000" stroke-width="3.6" stroke-linecap="butt"/>
<line x1="1450.78" y1="421.70" x2="1466.18" y2="421.70" stroke="#ff0000" stroke-width="3.6" stroke-linecap="round"/>
</g>
</svg>
</body></html>
